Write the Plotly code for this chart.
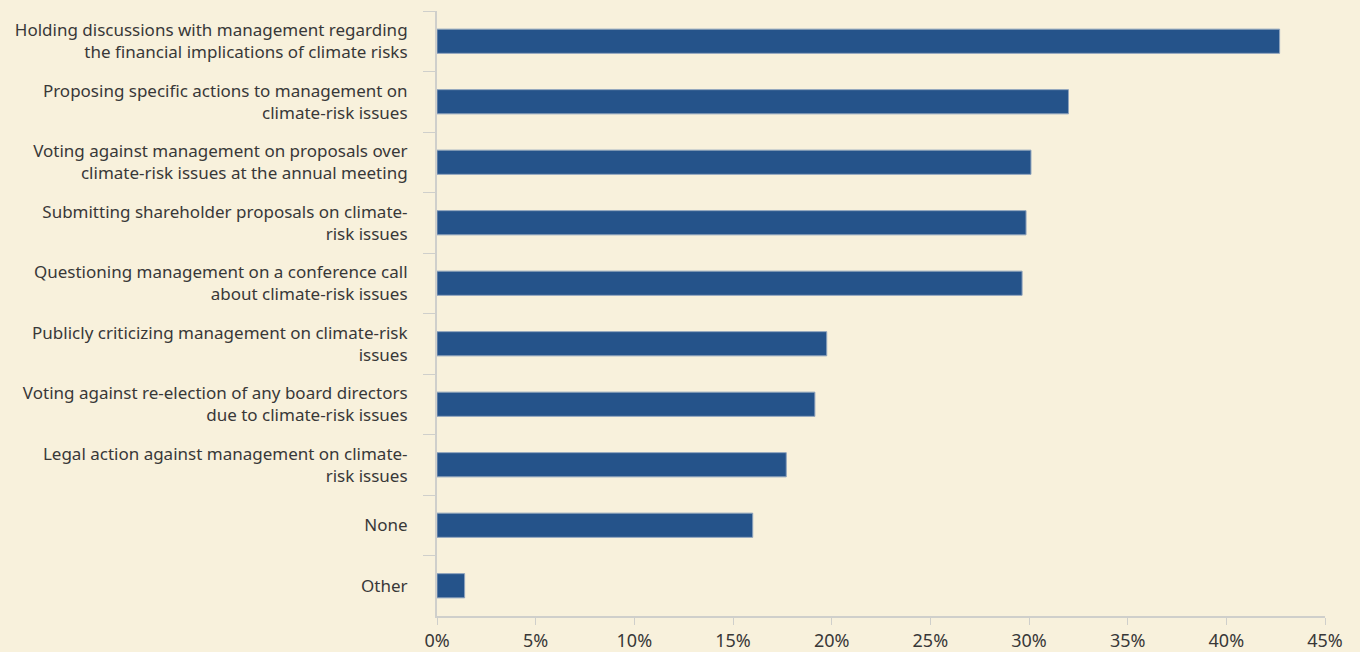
import plotly.graph_objects as go

categories = [
    "Holding discussions with management regarding<br>the financial implications of climate risks",
    "Proposing specific actions to management on<br>climate-risk issues",
    "Voting against management on proposals over<br>climate-risk issues at the annual meeting",
    "Submitting shareholder proposals on climate-<br>risk issues",
    "Questioning management on a conference call<br>about climate-risk issues",
    "Publicly criticizing management on climate-risk<br>issues",
    "Voting against re-election of any board directors<br>due to climate-risk issues",
    "Legal action against management on climate-<br>risk issues",
    "None",
    "Other",
]
values = [42.7, 32.0, 30.1, 29.85, 29.65, 19.75, 19.15, 17.7, 16.0, 1.4]
x_ticks = [0, 5, 10, 15, 20, 25, 30, 35, 40, 45]
x_tick_labels = [f"{t}%" for t in x_ticks]

BG = "#f8f1dc"
BAR = "#25538a"
GRID = "#cfcfcb"
TXT = "#383838"

fig = go.Figure(go.Bar(
    x=values, y=categories, orientation="h",
    marker=dict(color=BAR, line=dict(color="#8fa3bd", width=1)),
    width=0.4,
))

fig.update_layout(
    width=1360, height=652,
    paper_bgcolor=BG, plot_bgcolor=BG,
    margin=dict(l=437, r=35, t=11, b=36),
    font=dict(family="Noto Sans", size=17, color=TXT),
    showlegend=False,
    bargap=0.6,
)
fig.update_xaxes(
    range=[0, 45], tickvals=x_ticks, ticktext=x_tick_labels,
    showgrid=False, zeroline=False, automargin=False,
    showline=True, linecolor=GRID, linewidth=2,
    ticks="outside", ticklen=7, tickcolor=GRID, tickwidth=1,
    tickfont=dict(size=18, color=TXT),
)
fig.update_yaxes(
    autorange="reversed", type="category",
    showgrid=False, zeroline=False, automargin=False,
    showline=True, linecolor=GRID, linewidth=2,
    ticks="outside", ticklen=12, tickcolor=GRID, tickwidth=1,
    tickson="boundaries",
    ticklabelstandoff=24,
    tickfont=dict(size=17, color=TXT),
)

fig.write_html("out.html")
